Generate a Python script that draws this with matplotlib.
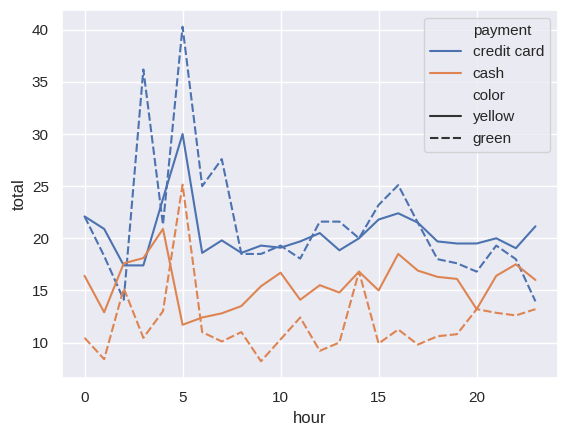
import numpy as np
import pandas as pd
import seaborn as sns
import matplotlib.pyplot as plt

sns.set_theme()
plt.rcParams['font.family'] = ['Liberation Sans', 'DejaVu Sans']

# mean total per hour
hours = list(range(24))
credit_yellow = [22.1, 20.9, 17.4, 17.4, 23.8, 30.0, 18.6, 19.8, 18.6, 19.3, 19.1, 19.7,
                 20.5, 18.85, 20.0, 21.8, 22.4, 21.5, 19.7, 19.5, 19.5, 20.0, 19.05, 21.15]
credit_green = [22.1, 18.3, 14.1, 36.2, 21.3, 40.3, 25.0, 27.6, 18.5, 18.5, 19.3, 18.05,
                21.6, 21.6, 20.0, 23.2, 25.1, 21.5, 18.0, 17.6, 16.8, 19.3, 18.0, 13.95]
cash_yellow = [16.4, 12.9, 17.6, 18.1, 20.9, 11.7, 12.4, 12.8, 13.5, 15.4, 16.7, 14.1,
               15.5, 14.8, 16.8, 15.0, 18.5, 16.9, 16.3, 16.1, 13.2, 16.4, 17.5, 16.0]
cash_green = [10.45, 8.4, 15.2, 10.45, 13.0, 25.15, 11.0, 10.1, 11.0, 8.2, 10.3, 12.4,
              9.2, 10.0, 16.8, 9.9, 11.25, 9.8, 10.6, 10.8, 13.2, 12.85, 12.6, 13.2]

series = {
    ('credit card', 'yellow'): credit_yellow,
    ('credit card', 'green'): credit_green,
    ('cash', 'yellow'): cash_yellow,
    ('cash', 'green'): cash_green,
}

rows = []
for (payment, color), vals in series.items():
    for h, v in zip(hours, vals):
        rows.append({'hour': h, 'payment': payment, 'color': color, 'total': v})
df = pd.DataFrame(rows)

fig = plt.figure(figsize=(5.66, 4.37), dpi=100)
ax = fig.add_axes([62 / 566, 59 / 437, 496 / 566, 368 / 437])

sns.lineplot(data=df, x='hour', y='total', hue='payment', style='color',
             hue_order=['credit card', 'cash'], style_order=['yellow', 'green'], ax=ax)

fig.savefig('out.png', dpi=100)
